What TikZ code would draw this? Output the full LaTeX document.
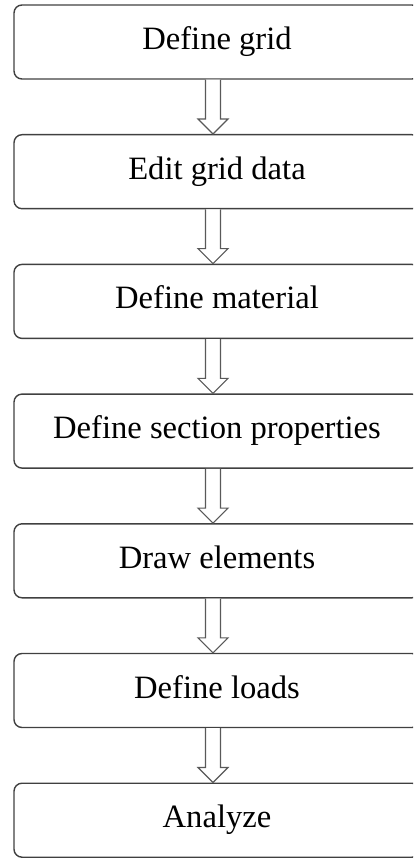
\documentclass[tikz,border=0pt]{standalone}
\usepackage{fontspec}
\setmainfont{Liberation Serif}
\usetikzlibrary{calc}

\tikzset{
  stepbox/.style={draw=black!75, line width=1.4pt, rounded corners=8pt,
    minimum width=406pt, minimum height=74pt, inner sep=0pt,
    text height=23pt, text depth=8pt,
    font=\fontsize{32.6}{36}\selectfont},
  hollowarrow/.style={draw=black!65, line width=1.1pt, fill=white}
}

% hollow block arrow from the bottom of #1 to the top of #2
\newcommand{\flowarrow}[2]{%
  \draw[hollowarrow] ($(#1.south)+(-11.5,0)$) -- ($(#2.north)+(-11.5,15)$)
    -- ($(#2.north)+(-19,15)$) -- ($(#2.north)+(-4,0)$)
    -- ($(#2.north)+(11,15)$) -- ($(#2.north)+(3.5,15)$)
    -- ($(#1.south)+(3.5,0)$);}

\begin{document}
\begin{tikzpicture}[x=1pt,y=1pt]
  \useasboundingbox (0,0) rectangle (413,-858);
  \clip (0,0) rectangle (413,-858);
  \node[stepbox] (grid)     at (217,-42.0)  {Define grid};
  \node[stepbox] (editgrid) at (217,-171.7) {Edit grid data};
  \node[stepbox] (material) at (217,-301.4) {Define material};
  \node[stepbox] (section)  at (217,-431.1) {Define section properties};
  \node[stepbox] (elements) at (217,-560.8) {Draw elements};
  \node[stepbox] (loads)    at (217,-690.5) {Define loads};
  \node[stepbox] (analyze)  at (217,-820.2) {Analyze};
  \flowarrow{grid}{editgrid}
  \flowarrow{editgrid}{material}
  \flowarrow{material}{section}
  \flowarrow{section}{elements}
  \flowarrow{elements}{loads}
  \flowarrow{loads}{analyze}
\end{tikzpicture}
\end{document}
